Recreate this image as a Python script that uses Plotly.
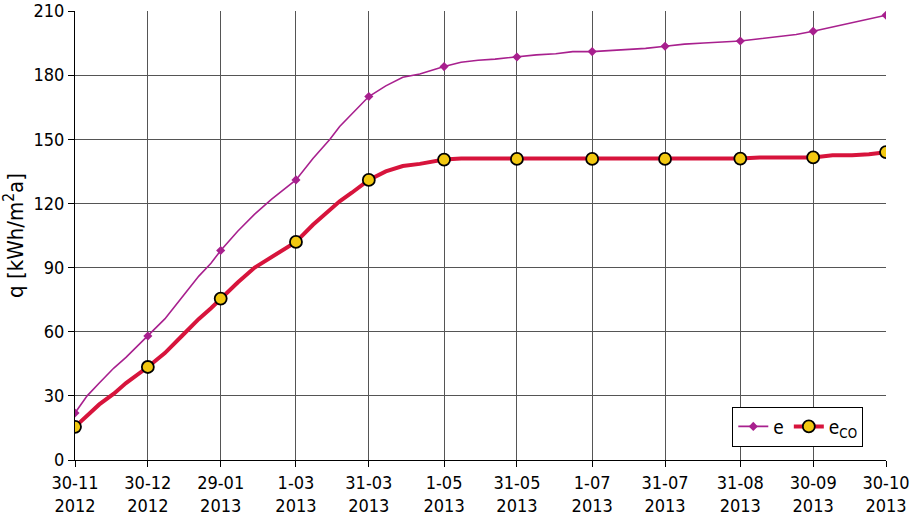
import plotly.graph_objects as go

# Tick dates and labels
tick_dates = ["2012-11-30", "2012-12-30", "2013-01-29", "2013-03-01", "2013-03-31", "2013-05-01",
              "2013-05-31", "2013-07-01", "2013-07-31", "2013-08-31", "2013-09-30", "2013-10-30"]
tick_labels = ["30-11<br>2012", "30-12<br>2012", "29-01<br>2013", "1-03<br>2013", "31-03<br>2013", "1-05<br>2013",
               "31-05<br>2013", "1-07<br>2013", "31-07<br>2013", "31-08<br>2013", "30-09<br>2013", "30-10<br>2013"]
y_ticks = [0, 30, 60, 90, 120, 150, 180, 210]

# Series e
e_dates = ["2012-11-30", "2012-12-05", "2012-12-10", "2012-12-16", "2012-12-21", "2012-12-30",
           "2013-01-06", "2013-01-13", "2013-01-20", "2013-01-25", "2013-01-29",
           "2013-02-05", "2013-02-12", "2013-02-19", "2013-03-01",
           "2013-03-08", "2013-03-15", "2013-03-19", "2013-03-24", "2013-03-31",
           "2013-04-07", "2013-04-14", "2013-04-21", "2013-05-01",
           "2013-05-08", "2013-05-15", "2013-05-22", "2013-05-31",
           "2013-06-08", "2013-06-16", "2013-06-23", "2013-07-01",
           "2013-07-08", "2013-07-15", "2013-07-23", "2013-07-31",
           "2013-08-08", "2013-08-16", "2013-08-24", "2013-08-31",
           "2013-09-08", "2013-09-16", "2013-09-23", "2013-09-30",
           "2013-10-08", "2013-10-16", "2013-10-23", "2013-10-30"]
e_values = [22, 30, 36, 43, 48, 58,
            66, 76, 86, 92, 98,
            107, 115, 122, 131,
            141, 150, 156, 162, 170,
            175, 179, 180.5, 184,
            186, 187, 187.5, 188.5,
            189.5, 190, 191, 191,
            191.5, 192, 192.5, 193.5,
            194.5, 195, 195.5, 196,
            197, 198, 199, 200.5,
            202.5, 204.5, 206, 208]

# Series e_CO
eco_dates = e_dates
eco_values = [15.5, 21, 26, 31, 36, 43.5,
              50, 58, 66, 71, 75.5,
              83, 90, 95, 102,
              110, 117, 121, 125, 131,
              135, 137.5, 138.5, 140.5,
              141, 141, 141, 140.8,
              141, 141, 141, 140.8,
              141, 141, 141, 140.8,
              141, 141, 141, 141,
              141.5, 141.5, 141.5, 141.5,
              142.5, 142.5, 143, 144]

MAG = "#A8208E"
RED = "#D7143C"
GOLD = "#F2C811"
FONT = "Liberation Sans Narrow, DejaVu Sans Condensed, Arial Narrow, sans-serif"

def subset(dates, vals):
    xs, ys = [], []
    for d, v in zip(dates, vals):
        if d in tick_dates:
            xs.append(d); ys.append(v)
    return xs, ys

fig = go.Figure()
fig.add_trace(go.Scatter(x=e_dates, y=e_values, mode="lines", line=dict(color=MAG, width=1.6),
                         showlegend=False, hoverinfo="skip"))
ex, ey = subset(e_dates, e_values)
fig.add_trace(go.Scatter(x=ex, y=ey, mode="markers", marker=dict(symbol="diamond", size=7, color=MAG),
                         showlegend=False))
fig.add_trace(go.Scatter(x=eco_dates, y=eco_values, mode="lines", line=dict(color=RED, width=4),
                         showlegend=False, hoverinfo="skip"))
cx, cy = subset(eco_dates, eco_values)
fig.add_trace(go.Scatter(x=cx, y=cy, mode="markers",
                         marker=dict(symbol="circle", size=12, color=GOLD, line=dict(color="black", width=1.8)),
                         showlegend=False))
# legend entries
fig.add_trace(go.Scatter(x=[None], y=[None], mode="lines+markers", name="e",
                         line=dict(color=MAG, width=1.6), marker=dict(symbol="diamond", size=7, color=MAG)))
fig.add_trace(go.Scatter(x=[None], y=[None], mode="lines+markers", name="e<sub>CO</sub>",
                         line=dict(color=RED, width=4),
                         marker=dict(symbol="circle", size=12, color=GOLD, line=dict(color="black", width=1.8))))

fig.update_layout(
    template="none",
    width=911, height=517,
    margin=dict(l=75, r=25, t=11, b=57),
    paper_bgcolor="white", plot_bgcolor="white",
    font=dict(family=FONT, size=18, color="black"),
    legend=dict(orientation="h", x=0.972, y=0.03, xanchor="right", yanchor="bottom",
                bgcolor="white", bordercolor="black", borderwidth=1,
                font=dict(size=19), itemwidth=30, tracegroupgap=0),
)
fig.update_xaxes(type="date", range=["2012-11-30", "2013-10-30"], automargin=False,
                 tickvals=tick_dates, ticktext=tick_labels, tickangle=0,
                 showgrid=True, gridcolor="#555555", gridwidth=1,
                 showline=True, linecolor="black", linewidth=1,
                 ticks="outside", ticklen=6, tickcolor="black")
fig.update_yaxes(range=[0, 210], tickvals=y_ticks, automargin=False,
                 showgrid=True, gridcolor="#555555", gridwidth=1,
                 showline=True, linecolor="black", linewidth=1,
                 ticks="outside", ticklen=6, tickcolor="black",
                 title=dict(text="q [kWh/m<sup>2</sup>a]", standoff=10), zeroline=False)

fig.write_html("out.html")
